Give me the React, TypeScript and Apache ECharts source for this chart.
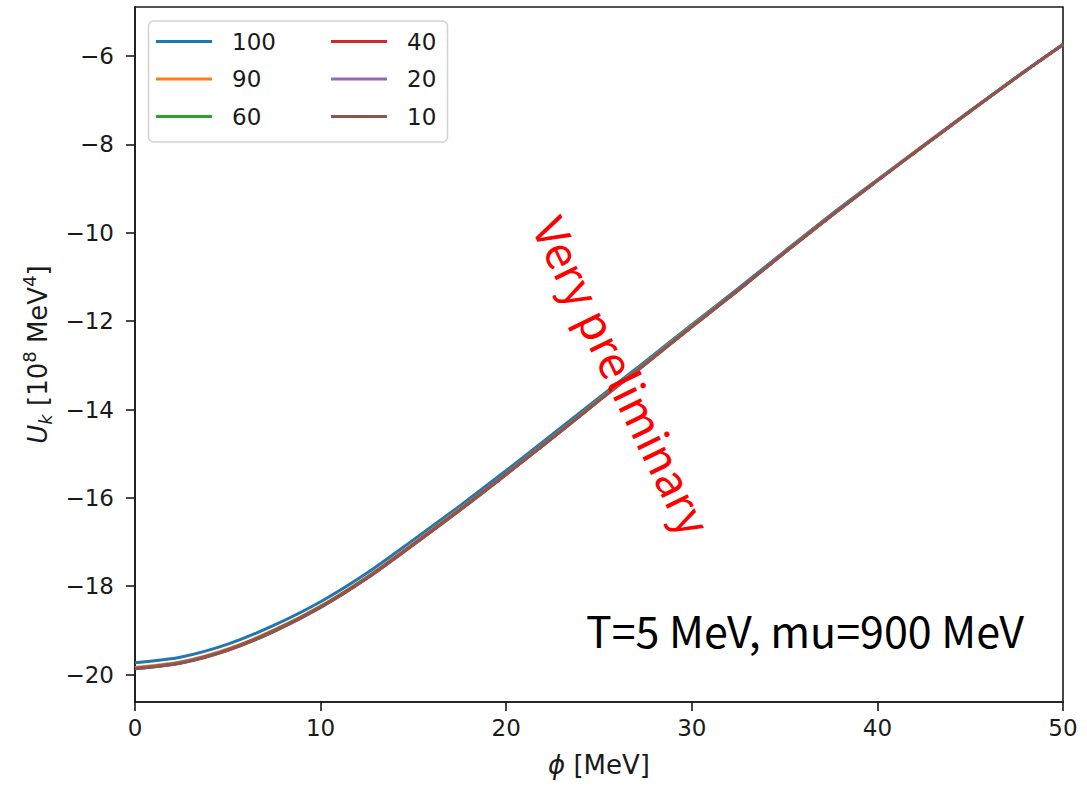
import { useEffect, useRef } from "react";
import * as echarts from "echarts";

// phi grid [MeV]
const phi = [0, 2.5, 5, 7.5, 10, 12.5, 15, 17.5, 20, 22.5, 25, 27.5, 30, 32.5, 35, 37.5, 40, 42.5, 45, 47.5, 50];

// U_k [10^8 MeV^4] for each k
const u100 = [-19.73, -19.6, -19.31, -18.88, -18.35, -17.7, -16.95, -16.18, -15.38, -14.56, -13.73, -12.91, -12.08, -11.26, -10.42, -9.59, -8.8, -8.02, -7.24, -6.48, -5.74];
const u90 = [-19.84, -19.71, -19.42, -18.99, -18.45, -17.79, -17.03, -16.25, -15.45, -14.62, -13.78, -12.95, -12.11, -11.29, -10.44, -9.61, -8.81, -8.02, -7.25, -6.48, -5.74];
const u60 = [-19.86, -19.72, -19.44, -19.0, -18.46, -17.8, -17.05, -16.27, -15.46, -14.63, -13.79, -12.96, -12.12, -11.29, -10.45, -9.62, -8.82, -8.03, -7.25, -6.48, -5.74];
const u40 = [-19.86, -19.73, -19.44, -19.01, -18.47, -17.81, -17.05, -16.27, -15.46, -14.64, -13.8, -12.97, -12.13, -11.3, -10.45, -9.62, -8.82, -8.03, -7.25, -6.48, -5.74];
const u20 = [-19.87, -19.73, -19.45, -19.02, -18.48, -17.82, -17.06, -16.28, -15.47, -14.64, -13.8, -12.97, -12.13, -11.3, -10.45, -9.62, -8.82, -8.03, -7.25, -6.48, -5.74];
const u10 = [-19.87, -19.74, -19.45, -19.02, -18.48, -17.82, -17.06, -16.28, -15.47, -14.64, -13.8, -12.97, -12.13, -11.3, -10.45, -9.62, -8.82, -8.03, -7.25, -6.48, -5.74];

const seriesNames = ["100", "90", "60", "40", "20", "10"];
const seriesValues = [u100, u90, u60, u40, u20, u10];
const seriesColors = ["#1f77b4", "#ff7f0e", "#2ca02c", "#d62728", "#9467bd", "#8c564b"];

const yTicks = [-20, -18, -16, -14, -12, -10, -8, -6];
const xTicks = [0, 10, 20, 30, 40, 50];

const INK = "#1a1a1a";
const TICK_FONT = "DejaVu Sans";
const NOTE_FONT = "Noto Sans CJK KR";
const LABEL_SIZE = 26;
const SCRIPT_SIZE = 18;

const minus = (v: number) => (v < 0 ? "\u2212" + Math.abs(v) : String(v));

export default function App() {
  const ref = useRef<HTMLDivElement>(null);

  useEffect(() => {
    if (!ref.current) return;
    const chart = echarts.init(ref.current, null, { renderer: "svg" });

    const series = seriesNames.map((name, s) => ({
      name,
      type: "line",
      data: phi.map((x, i) => [x, seriesValues[s][i]]),
      symbol: "none",
      smooth: 0.3,
      lineStyle: { color: seriesColors[s], width: 3 },
      itemStyle: { color: seriesColors[s] },
      z: 2 + s,
    }));

    const legendBase = {
      orient: "vertical",
      top: 30,
      padding: 0,
      icon: "rect",
      itemWidth: 56,
      itemHeight: 3,
      itemGap: 14.5,
      textStyle: {
        fontFamily: TICK_FONT,
        fontSize: 23,
        lineHeight: 22,
        color: INK,
        padding: [0, 0, 0, 15],
      },
    };

    chart.setOption({
      animation: false,
      backgroundColor: "#ffffff",
      grid: {
        left: 135,
        right: 24,
        top: 7,
        bottom: 84,
        show: true,
        borderColor: INK,
        borderWidth: 1.6,
        backgroundColor: "transparent",
      },
      xAxis: {
        type: "value",
        min: 0,
        max: 50,
        interval: 10,
        name: "{i|\u03d5}{n| [MeV]}",
        nameLocation: "middle",
        nameGap: 50,
        nameTextStyle: {
          color: INK,
          fontFamily: TICK_FONT,
          fontSize: LABEL_SIZE,
          rich: {
            i: { fontStyle: "italic", fontFamily: TICK_FONT, fontSize: LABEL_SIZE, color: INK },
            n: { fontFamily: TICK_FONT, fontSize: LABEL_SIZE, color: INK },
          },
        },
        axisLine: { show: true, lineStyle: { color: INK, width: 1.6 } },
        axisTick: { show: true, length: 9, lineStyle: { color: INK, width: 1.6 }, customValues: xTicks },
        axisLabel: {
          color: INK,
          fontFamily: TICK_FONT,
          fontSize: 23,
          margin: 14,
          customValues: xTicks,
        },
        splitLine: { show: false },
      },
      yAxis: {
        type: "value",
        min: -20.62,
        max: -4.89,
        name: "{i|U}{sub|k}{n| [10}{sup|8}{n| MeV}{sup|4}{n|]}",
        nameLocation: "middle",
        nameRotate: 90,
        nameGap: 77,
        nameTextStyle: {
          color: INK,
          fontFamily: TICK_FONT,
          fontSize: LABEL_SIZE,
          lineHeight: 34,
          rich: {
            i: { fontStyle: "italic", fontFamily: TICK_FONT, fontSize: LABEL_SIZE, color: INK, verticalAlign: "middle" },
            n: { fontFamily: TICK_FONT, fontSize: LABEL_SIZE, color: INK, verticalAlign: "middle" },
            sub: { fontStyle: "italic", fontFamily: TICK_FONT, fontSize: SCRIPT_SIZE, lineHeight: SCRIPT_SIZE, color: INK, verticalAlign: "bottom" },
            sup: { fontFamily: TICK_FONT, fontSize: SCRIPT_SIZE, lineHeight: SCRIPT_SIZE, color: INK, verticalAlign: "top" },
          },
        },
        axisLine: { show: true, lineStyle: { color: INK, width: 1.6 } },
        axisTick: { show: true, length: 9, lineStyle: { color: INK, width: 1.6 }, customValues: yTicks },
        axisLabel: {
          color: INK,
          fontFamily: TICK_FONT,
          fontSize: 23,
          margin: 21,
          customValues: yTicks,
          formatter: (v: number) => minus(v),
        },
        splitLine: { show: false },
      },
      legend: [
        { ...legendBase, left: 156, data: seriesNames.slice(0, 3) },
        { ...legendBase, left: 331, data: seriesNames.slice(3) },
      ],
      graphic: [
        {
          type: "rect",
          z: 0,
          shape: { x: 148.5, y: 21, width: 299, height: 121, r: 5 },
          style: { fill: "rgba(255,255,255,0.8)", stroke: "#d2d2d2", lineWidth: 1.5 },
        },
        {
          type: "text",
          z: 100,
          x: 586,
          y: 629,
          style: {
            text: "T=5 MeV, mu=900 MeV",
            fontFamily: NOTE_FONT,
            fontSize: 43,
            fill: "#000000",
            align: "left",
            verticalAlign: "middle",
          },
        },
        {
          type: "text",
          z: 100,
          x: 624,
          y: 375,
          rotation: (-64 * Math.PI) / 180,
          style: {
            text: "Very preliminary",
            fontFamily: NOTE_FONT,
            fontSize: 45,
            fill: "#ff0000",
            align: "center",
            verticalAlign: "middle",
          },
        },
      ],
      series,
    });

    return () => chart.dispose();
  }, []);

  return (
    <div
      ref={ref}
      style={{ position: "fixed", left: 0, top: 0, width: 1087, height: 786 }}
    />
  );
}
